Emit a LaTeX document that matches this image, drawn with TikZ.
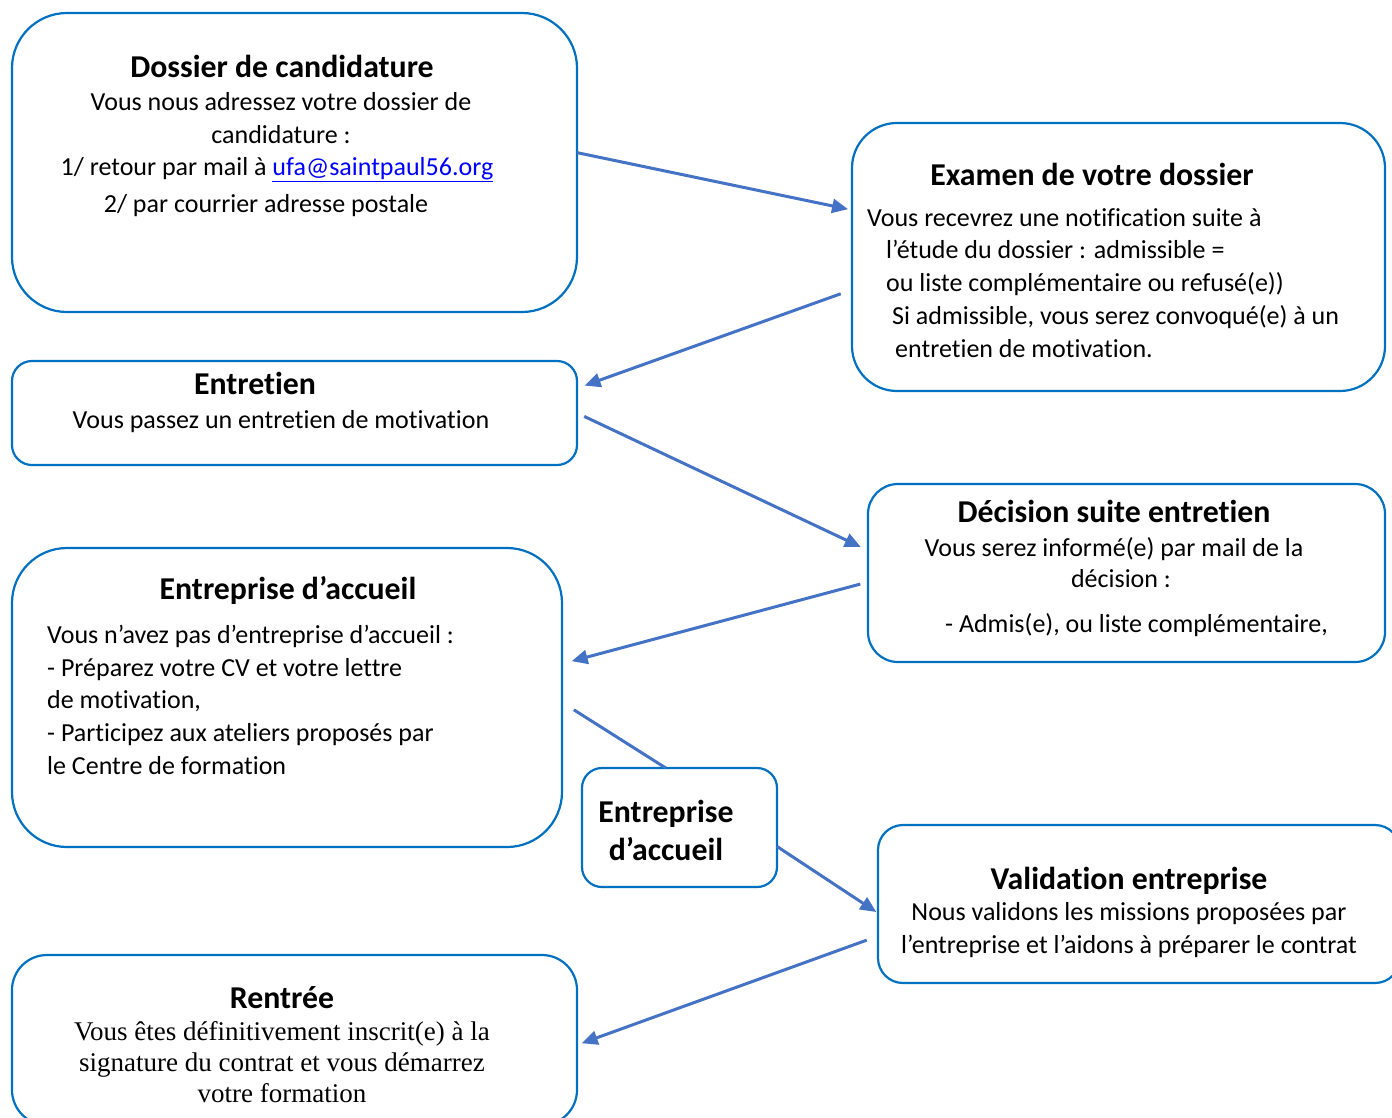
\documentclass[tikz,border=0pt]{standalone}
\usepackage{fontspec}
\setmainfont{Carlito}[Ligatures=CommonOff]
\newfontfamily\timesfont{Liberation Serif}[Ligatures=CommonOff]
\usepackage{xcolor}
\usetikzlibrary{arrows.meta}
\definecolor{boxblue}{HTML}{0070C0}
\definecolor{arrowblue}{HTML}{4472C4}
\definecolor{linkblue}{HTML}{0000FF}
\newcommand{\bodyfont}{\fontsize{26}{33}\selectfont}
\newcommand{\headfont}{\fontsize{31.8}{33}\selectfont\bfseries}
\newcommand{\serifbody}{\timesfont\fontsize{27}{31}\selectfont}

\begin{document}
\begin{tikzpicture}[x=1pt, y=-1pt,
  box/.style={draw=boxblue, line width=2.2pt, inner sep=0pt, outer sep=0pt},
  flow/.style={draw=arrowblue, line width=3pt, -{Triangle[length=16pt,width=14pt]}},
  joint/.style={draw=arrowblue, line width=3pt},
  head/.style={anchor=base, inner sep=0pt, font=\headfont},
  txt/.style={anchor=base, inner sep=0pt, font=\bodyfont},
  txtl/.style={anchor=base west, inner sep=0pt, font=\bodyfont}]
\useasboundingbox (0,0) rectangle (1392,1117);
%
\node[box, minimum width=565, minimum height=299, rounded corners=55] (dossier) at (294.5,162.5) {};
\node[box, minimum width=533, minimum height=268, rounded corners=45] (examen) at (1118.5,257) {};
\node[box, minimum width=565, minimum height=104, rounded corners=20] (entretien) at (294.5,413) {};
\node[box, minimum width=517, minimum height=178, rounded corners=30] (decision) at (1126.5,573) {};
\node[box, minimum width=550, minimum height=299, rounded corners=55] (accueil) at (287,697.5) {};
\node[box, minimum width=195, minimum height=119, rounded corners=20] (accueilB) at (679.5,827.5) {};
\node[box, minimum width=522, minimum height=158, rounded corners=25] (validation) at (1139,904) {};
\node[box, minimum width=565, minimum height=170, rounded corners=35] (rentree) at (294.5,1040) {};
%
\node[head] (dosH) at (282,77) {Dossier de candidature};
\node[txt] (dos1) at (281,110) {Vous nous adressez votre dossier de};
\node[txt] (dos2) at (281,143) {candidature :};
\node[txt] (dos3) at (277,175) {1/ retour par mail à {\color{linkblue}\underline{ufa@saintpaul56.org}}};
\node[txt] (dos4) at (266,212) {2/ par courrier adresse postale};
%
\node[head] (exaH) at (1092,185) {Examen de votre dossier};
\node[txtl] (exa1) at (867,226) {Vous recevrez une notification suite à};
\node[txtl] (exa2) at (886,258) {l’étude du dossier : admissible =};
\node[txtl] (exa3) at (886,291) {ou liste complémentaire ou refusé(e))};
\node[txtl] (exa4) at (892,324) {Si admissible, vous serez convoqué(e) à un};
\node[txtl] (exa5) at (895,357) {entretien de motivation.};
%
\node[head] (entH) at (255,394) {Entretien};
\node[txt] (ent1) at (281,428) {Vous passez un entretien de motivation};
%
\node[head] (decH) at (1114,522) {Décision suite entretien};
\node[txt] (dec1) at (1114,556) {Vous serez informé(e) par mail de la};
\node[txt] (dec2) at (1121,587) {décision :};
\node[txtl] (dec3) at (945,632) {- Admis(e), ou liste complémentaire,};
%
\node[head] (accH) at (288,599) {Entreprise d’accueil};
\node[txtl] (acc1) at (47,643) {Vous n’avez pas d’entreprise d’accueil :};
\node[txtl] (acc2) at (47,676) {- Préparez votre CV et votre lettre};
\node[txtl] (acc3) at (47,708) {de motivation,};
\node[txtl] (acc4) at (47,741) {- Participez aux ateliers proposés par};
\node[txtl] (acc5) at (47,774) {le Centre de formation};
%
\node[head] (accBH1) at (666,822) {Entreprise};
\node[head] (accBH2) at (666,860) {d’accueil};
%
\node[head] (valH) at (1129,889) {Validation entreprise};
\node[txt] (val1) at (1129,920) {Nous validons les missions proposées par};
\node[txt] (val2) at (1129,953) {l’entreprise et l’aidons à préparer le contrat};
%
\node[head] (renH) at (282,1008) {Rentrée};
\node[txt, font=\serifbody] (ren1) at (282,1040) {Vous êtes définitivement inscrit(e) à la};
\node[txt, font=\serifbody] (ren2) at (282,1071) {signature du contrat et vous démarrez};
\node[txt, font=\serifbody] (ren3) at (282,1102) {votre formation};
%
\draw[flow, shorten >=4pt] (dossier.2) -- (examen.170);
\draw[flow, shorten <=12pt, shorten >=8pt] (examen.187) -- (entretien.5);
\draw[flow, shorten <=8pt, shorten >=8pt] (entretien.0) -- (decision.175);
\draw[flow, shorten <=8pt, shorten >=10pt] (decision.182) -- (accueil.7);
\draw[joint, shorten <=14pt] (accueil.359) -- (accueilB.103);
\draw[flow, shorten >=2pt] (accueilB.349) -- (validation.182);
\draw[flow, shorten <=12pt, shorten >=5pt] (validation.187) -- (rentree.359);
\end{tikzpicture}
\end{document}
